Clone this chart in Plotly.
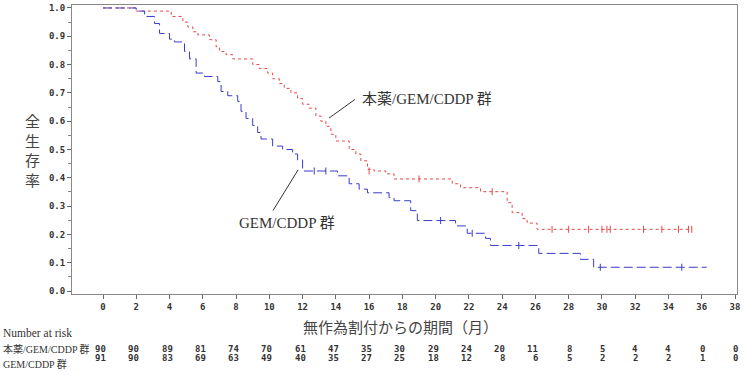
import plotly.graph_objects as go

# ---- data ----
red_name = "本薬/GEM/CDDP 群"
blue_name = "GEM/CDDP 群"

red_t = [0, 2.0, 4.1, 4.8, 5.1, 5.4, 5.7, 6.4, 6.8, 7.0, 7.4, 7.8, 9.0, 9.4, 9.9, 10.2, 10.6,
         10.9, 11.3, 11.7, 12.0, 12.4, 12.8, 13.1, 13.4, 13.7, 14.0, 14.8, 15.2, 15.5, 15.9,
         16.3, 17.0, 17.5, 21.0, 21.5, 22.7, 24.3, 24.6, 25.2, 25.5, 26.1, 35.4]
red_s = [1.0, 0.989, 0.97, 0.95, 0.933, 0.916, 0.905, 0.888, 0.863, 0.846, 0.835, 0.82, 0.80,
         0.786, 0.77, 0.75, 0.733, 0.716, 0.70, 0.68, 0.66, 0.646, 0.618, 0.60, 0.582, 0.554,
         0.53, 0.50, 0.484, 0.46, 0.43, 0.424, 0.414, 0.396, 0.379, 0.365, 0.351, 0.312, 0.277,
         0.256, 0.24, 0.218, 0.218]
red_cens_t = [16.0, 19.0, 23.4, 27.0, 28.0, 29.2, 30.0, 30.3, 30.5, 32.5, 33.6, 34.6, 35.2, 35.4]
red_cens_s = [0.424, 0.396, 0.351, 0.218, 0.218, 0.218, 0.218, 0.218, 0.218, 0.218, 0.218,
              0.218, 0.218, 0.218]

blue_t = [0, 2.0, 2.5, 3.1, 3.4, 4.0, 4.3, 4.9, 5.2, 5.6, 6.1, 6.9, 7.1, 7.5, 8.1, 8.3, 8.6,
          9.0, 9.3, 9.5, 10.2, 10.8, 11.4, 11.7, 12.0, 14.1, 14.8, 15.4, 15.9, 17.2, 17.5,
          18.5, 18.9, 21.2, 21.9, 23.0, 23.3, 26.2, 28.7, 29.5, 36.3]
blue_s = [1.0, 0.989, 0.97, 0.945, 0.91, 0.89, 0.88, 0.846, 0.82, 0.77, 0.758, 0.74, 0.705,
          0.69, 0.67, 0.635, 0.61, 0.585, 0.56, 0.537, 0.512, 0.50, 0.484, 0.463, 0.424, 0.407,
          0.379, 0.36, 0.347, 0.33, 0.319, 0.284, 0.249, 0.23, 0.204, 0.186, 0.161, 0.133,
          0.112, 0.084, 0.084]
blue_cens_t = [12.7, 13.4, 20.3, 22.2, 25.0, 29.9, 34.8]
blue_cens_s = [0.424, 0.424, 0.249, 0.204, 0.161, 0.084, 0.084]

x_ticks = list(range(0, 39, 2))
risk_red = [90, 90, 89, 81, 74, 70, 61, 47, 35, 30, 29, 24, 20, 11, 8, 5, 4, 4, 0, 0]
risk_blue = [91, 90, 83, 69, 63, 49, 40, 35, 27, 25, 18, 12, 8, 6, 5, 2, 2, 2, 1, 0]
y_title_chars = ["全", "生", "存", "率"]

RED = "#e5484b"
BLUE = "#3b3bc8"
MONO = "DejaVu Sans Mono"
SERIF = "Liberation Serif, Noto Sans CJK JP"
CJK = "Noto Sans CJK JP"

fig = go.Figure()
fig.add_trace(go.Scatter(x=red_t, y=red_s, mode="lines", line_shape="hv",
                         line=dict(color=RED, width=1, dash="3px,3px"), showlegend=False))
fig.add_trace(go.Scatter(x=blue_t, y=blue_s, mode="lines", line_shape="hv",
                         line=dict(color=BLUE, width=1, dash="9px,4px"), showlegend=False))
fig.add_trace(go.Scatter(x=red_cens_t, y=red_cens_s, mode="markers",
                         marker=dict(symbol="line-ns-open", size=5, color=RED,
                                     line=dict(color=RED, width=1)),
                         showlegend=False))
fig.add_trace(go.Scatter(x=blue_cens_t, y=blue_cens_s, mode="markers",
                         marker=dict(symbol="line-ns-open", size=5, color=BLUE,
                                     line=dict(color=BLUE, width=1)),
                         showlegend=False))

# pixel geometry helpers for paper placement
L, R, T, B = 72, 9, 3, 81
W, H = 746, 375
pw, ph = W - L - R, H - T - B


def px_x(px):
    return (px - L) / pw


def px_y(py):
    return (H - B - py) / ph


ann = []
# y title stacked
for i, ch in enumerate(y_title_chars):
    ann.append(dict(text=ch, x=px_x(32), y=px_y(119 + 20 * i), xref="paper", yref="paper",
                    showarrow=False, font=dict(family=CJK, size=15, color="#444"),
                    xanchor="center", yanchor="middle"))
# x title
ann.append(dict(text="無作為割付からの期間（月）", x=px_x(400), y=px_y(327), xref="paper", yref="paper",
                showarrow=False, font=dict(family=CJK, size=15, color="#444"),
                xanchor="center", yanchor="middle"))
# curve labels
ann.append(dict(text=red_name, x=15.45, y=0.677, xref="x", yref="y", showarrow=False,
                font=dict(family=SERIF, size=15, color="#333"), xanchor="left", yanchor="middle"))
ann.append(dict(text=blue_name, x=11.06, y=0.242, xref="x", yref="y", showarrow=False,
                font=dict(family=SERIF, size=15, color="#333"), xanchor="center", yanchor="middle"))
# number at risk
ann.append(dict(text="Number at risk", x=px_x(1), y=px_y(333), xref="paper", yref="paper",
                showarrow=False, font=dict(family=SERIF, size=11.5, color="#333"),
                xanchor="left", yanchor="middle"))
ann.append(dict(text=red_name, x=px_x(1), y=px_y(349), xref="paper", yref="paper",
                showarrow=False, font=dict(family=SERIF, size=10, color="#333"),
                xanchor="left", yanchor="middle"))
ann.append(dict(text=blue_name, x=px_x(1), y=px_y(364), xref="paper", yref="paper",
                showarrow=False, font=dict(family=SERIF, size=10, color="#333"),
                xanchor="left", yanchor="middle"))
for tk, a, b in zip(x_ticks, risk_red, risk_blue):
    ann.append(dict(text=str(a), x=tk, y=px_y(349), xref="x", yref="paper", showarrow=False,
                    font=dict(family=MONO, size=9, color="#333", weight="bold"),
                    xanchor="right", yanchor="middle", xshift=5))
    ann.append(dict(text=str(b), x=tk, y=px_y(358), xref="x", yref="paper", showarrow=False,
                    font=dict(family=MONO, size=9, color="#333", weight="bold"),
                    xanchor="right", yanchor="middle", xshift=5))

shapes = [
    dict(type="line", xref="x", yref="y", x0=13.59, y0=0.611, x1=15.15, y1=0.677,
         line=dict(color="#333", width=1)),
    dict(type="line", xref="x", yref="y", x0=10.22, y0=0.284, x1=11.73, y1=0.428,
         line=dict(color="#333", width=1)),
]

fig.update_layout(
    width=W, height=H, margin=dict(l=L, r=R, t=T, b=B),
    plot_bgcolor="white", paper_bgcolor="white",
    annotations=ann, shapes=shapes,
    xaxis=dict(range=[-1.864, 38.12], tickmode="array", tickvals=x_ticks,
               ticktext=[str(v) for v in x_ticks], ticks="outside", ticklen=4, tickcolor="#666",
               showline=True, linecolor="#888", mirror=True, showgrid=False, zeroline=False,
               tickfont=dict(family=MONO, size=9, color="#333", weight="bold")),
    yaxis=dict(range=[-0.0105, 1.0105], tickmode="array",
               tickvals=[i / 10 for i in range(11)],
               ticktext=[f"{i / 10:.1f}" for i in range(11)], ticks="outside", ticklen=4,
               tickcolor="#666", showline=True, linecolor="#888", mirror=True, showgrid=False,
               zeroline=False, minor=dict(tickvals=[i / 20 for i in range(1, 20, 2)],
                                          ticks="outside", ticklen=3, tickcolor="#888"),
               tickfont=dict(family=MONO, size=9, color="#333", weight="bold")),
)

fig.write_html("out.html")
